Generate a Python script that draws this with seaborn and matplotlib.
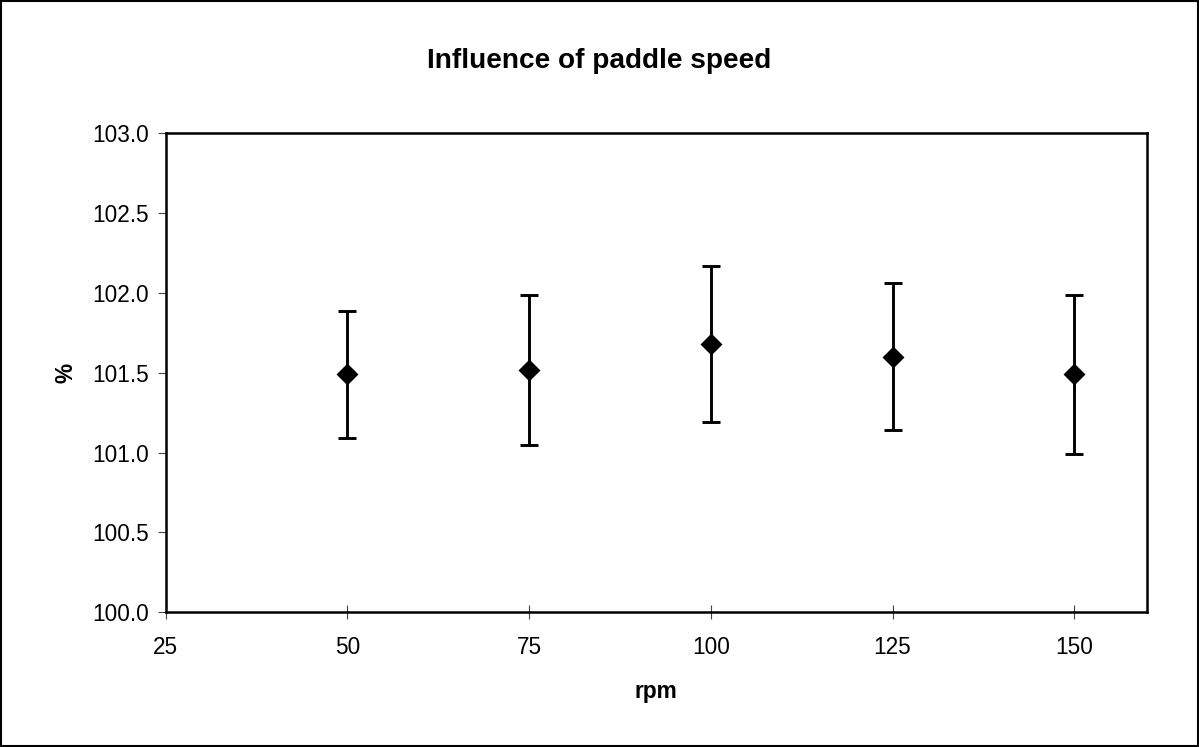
import matplotlib
matplotlib.use("Agg")
import matplotlib.pyplot as plt
import seaborn as sns
import pandas as pd
from matplotlib.patches import Rectangle

rpm = [50, 75, 100, 125, 150]
percent = [101.49, 101.52, 101.68, 101.60, 101.49]
err = [0.40, 0.47, 0.49, 0.46, 0.50]
x_ticks = [25, 50, 75, 100, 125, 150]
y_ticks = [100.0, 100.5, 101.0, 101.5, 102.0, 102.5, 103.0]

df = pd.DataFrame({"rpm": rpm, "percent": percent, "err": err})

sns.set_theme(style="white")
plt.rcParams['font.family'] = ['Liberation Sans', 'DejaVu Sans']
plt.rcParams['text.color'] = 'black'
plt.rcParams['axes.labelcolor'] = 'black'
plt.rcParams['xtick.labelcolor'] = 'black'
plt.rcParams['ytick.labelcolor'] = 'black'

fig = plt.figure(figsize=(11.99, 7.47), dpi=100)
ax = fig.add_axes([0.1382, 0.1803, 0.9566 - 0.1382, 0.8216 - 0.1803])

ax.errorbar(df["rpm"], df["percent"], yerr=df["err"], fmt="none",
            ecolor="black", elinewidth=2.1, capsize=6.2, capthick=2.1, zorder=2)
sns.scatterplot(data=df, x="rpm", y="percent", marker="D", s=125,
                color="black", edgecolor="black", linewidth=0, ax=ax, zorder=3)

ax.set_xlim(25, 160)
ax.set_ylim(100, 103)
ax.set_xticks(x_ticks)
ax.set_xticklabels([str(v) for v in x_ticks])
ax.set_yticks(y_ticks)
ax.set_yticklabels([f"{v:.1f}" for v in y_ticks])

for s in ax.spines.values():
    s.set_visible(True)
    s.set_color("black")
    s.set_linewidth(1.8)

ax.tick_params(axis="x", direction="inout", length=10, width=0.8, color="#444444",
               labelsize=16.3, labelcolor="black", pad=12, bottom=True)
ax.tick_params(axis="y", direction="out", length=6, width=0.8, color="#444444",
               labelsize=16.3, labelcolor="black", pad=6, left=True)

ax.set_xlabel("rpm", fontsize=16.3, fontweight="bold", labelpad=15, color="black")
ax.set_ylabel("%", fontsize=16.3, fontweight="bold", labelpad=11, color="black")

fig.text(0.5, 0.919, "Influence of paddle speed", ha="center", va="center",
         fontsize=20.2, fontweight="bold", color="black")

fig.patches.append(Rectangle((0.0008, 0.0013), 0.9984, 0.9974, transform=fig.transFigure,
                             fill=False, edgecolor="black", linewidth=1.5))

fig.savefig("out.png", dpi=100)
